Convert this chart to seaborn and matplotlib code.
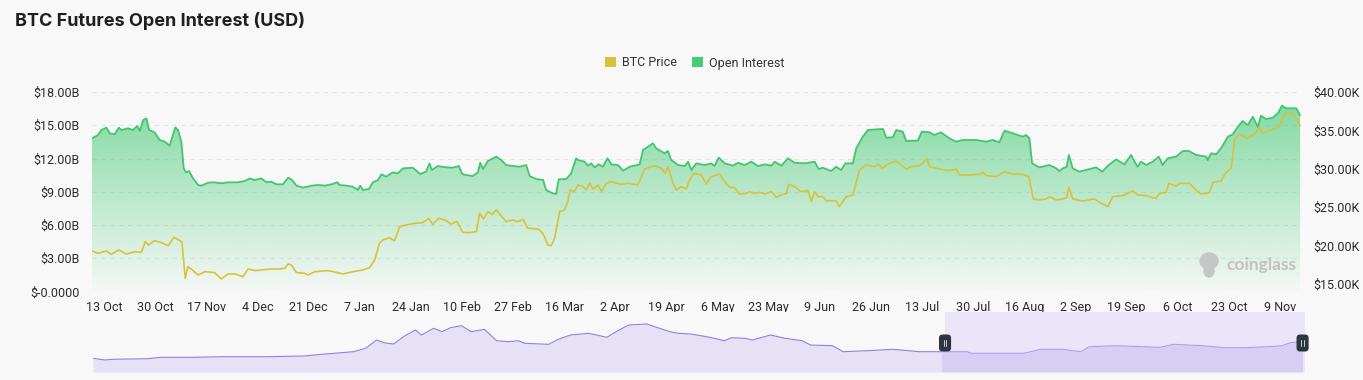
import numpy as np
import matplotlib
matplotlib.use("Agg")
import matplotlib.pyplot as plt
import matplotlib.colors as mcolors
import seaborn as sns
from matplotlib.patches import Patch, FancyBboxPatch, Ellipse
from matplotlib.ticker import FuncFormatter

# x values are days counted from 9 Oct 2022 (left edge of the chart)
oi_day = [0, 2, 3.1, 4.8, 5.9, 7.5, 8.9, 9.8, 12, 13.6,
          15, 15.9, 17, 18.1, 19, 20.8, 22.5, 24.2, 25.8, 27.7,
          28.6, 29.7, 30.5, 31.2, 32.3, 33.6, 35.3, 36.4, 38.6, 40.8,
          43, 45.2, 48.6, 50.8, 52.4, 54.1, 56.3, 58, 59.6, 61.3,
          63.5, 65.2, 66.5, 68, 70.2, 73, 75.2, 77.4, 79.6, 81.6,
          82.3, 84.5, 86.7, 88.4, 89.2, 90.1, 92.1, 93.4, 95.1, 96.2,
          97.8, 100.0, 101.7, 103.4, 106.7, 109.1, 111.1, 112.2, 113.0, 115.0,
          117.8, 120.0, 122.0, 123.1, 124.4, 126.6, 128.3, 129.1, 130.0, 131.6,
          134.4, 136.1, 137.7, 140.0, 142.2, 144.4, 145.5, 147.7, 150.0, 151.0,
          153.2, 154.3, 155.2, 157.7, 159.3, 161.0,
          161.6, 163.8, 164.9, 166.0, 167.1, 168.5, 169.9, 171.4, 172.7, 174.9,
          176.6, 178.8, 182.1, 183.2, 184.9, 186.5, 187.6, 190.4, 191.5, 192.6,
          194.9, 197.1, 198.2, 199.3, 200.9, 203.7, 205.9, 207.0, 208.4, 210.4,
          213.1, 214.8, 217.0, 219.2, 221.4, 223.7, 225.9, 227.0, 229.2, 231.4,
          233.6, 237.0, 240.3, 241.6,
          243.0, 245.8, 247.4, 249.1, 250.5, 253.0, 254.1, 256.3, 258.0, 260.7,
          263.0, 264.1, 266.3, 267.4, 269.6, 270.7, 274.6, 275.9, 278.5, 280.1,
          282.3, 285.1, 287.3, 289.5, 294.0, 297.3, 299.5, 301.7, 303.4, 306.2,
          309.5, 310.6, 311.7, 312.6, 315.0, 318.4, 320.6, 321.7,
          322.8, 324.1, 324.8, 326.1, 328.3, 331.7, 333.9, 335.9, 337.8, 340.5,
          343.3, 345.5, 347.0, 347.7, 348.8, 350.5, 352.7, 354.7, 356.0, 357.7,
          360.5, 362.7, 364.7, 367.1, 370.5, 371.0, 372.1, 373.8, 375.4, 377.7,
          379.3, 381.0, 382.6, 384.3, 386.0, 387.6, 388.7, 390.4, 392.6, 394.3,
          395.7, 397.0, 400.4, 401.7]
oi_bn = [13.82, 14.12, 14.57, 14.78, 14.27, 14.18, 14.78, 14.57, 14.72, 14.57,
         14.93, 14.48, 15.47, 15.62, 14.57, 14.36, 13.67, 13.52, 13.16, 14.81,
         14.57, 13.52, 11.11, 10.75, 10.87, 10.2, 9.61, 9.55, 9.82, 9.85,
         9.76, 9.85, 9.85, 9.97, 10.2, 10.06, 10.2, 9.85, 9.91, 9.67,
         9.67, 10.27, 10.06, 9.55, 9.37, 9.55, 9.61, 9.55, 9.67, 9.85,
         9.61, 9.55, 9.46, 9.16, 9.55, 9.16, 9.25, 9.85, 10.06, 10.57,
         10.36, 10.75, 10.66, 11.11, 11.17, 10.6, 10.81, 11.56, 10.96, 11.32,
         11.2, 11.17, 11.32, 10.6, 10.51, 10.42, 10.75, 11.62, 11.05, 11.77,
         12.17, 11.86, 11.41, 11.32, 11.26, 11.41, 10.42, 10.15, 10.06, 9.16,
         8.86, 8.8, 10.12, 10.15, 10.66, 12.02,
         11.86, 11.71, 11.35, 11.56, 11.2, 11.47, 11.26, 12.02, 11.47, 11.41,
         10.9, 11.26, 11.47, 12.77, 13.07, 13.37, 12.92, 12.47, 12.68, 11.86,
         11.41, 11.32, 11.71, 10.96, 11.56, 11.41, 11.56, 11.32, 12.08, 11.56,
         11.35, 11.62, 11.41, 11.71, 11.32, 11.47, 11.35, 11.71, 11.35, 12.02,
         11.62, 11.56, 11.71, 11.05,
         11.17, 10.87, 11.26, 10.96, 11.56, 11.56, 12.92, 13.97, 14.57, 14.63,
         14.66, 13.88, 13.91, 14.57, 14.42, 13.58, 13.61, 14.42, 14.36, 14.12,
         14.36, 13.82, 13.52, 13.67, 13.67, 13.52, 13.67, 13.46, 14.51, 14.27,
         13.97, 14.12, 13.82, 11.56, 11.2, 11.41, 11.11, 10.87,
         11.11, 11.26, 12.32, 11.11, 10.81, 11.05, 11.2, 10.81, 11.35, 11.92,
         11.47, 12.32, 11.56, 11.26, 11.71, 11.41, 11.71, 12.17, 11.41, 12.02,
         12.17, 12.68, 12.68, 12.32, 12.17, 11.86, 12.47, 12.38, 12.92, 13.97,
         14.18, 14.87, 15.38, 15.02, 15.77, 14.87, 15.86, 15.56, 15.68, 16.08,
         16.77, 16.53, 16.53, 15.92]

price_day = [0, 2.0, 4.8, 6.4, 8.9, 11.4, 14.2, 16.4, 17.7, 18.8,
             20.8, 23.1, 25.3, 27.3, 28.8, 29.9, 31.0, 31.9, 33.0, 35.3,
             37.5, 40.8, 43.0, 45.2, 47.5, 50.2, 51.9, 54.1, 57.4, 59.6,
             62.4, 64.1, 65.2, 66.3, 68.0, 70.7, 71.8, 74.1, 78.5, 81.6,
             83.4, 86.7, 90.1, 92.3, 94.0, 95.6, 96.7, 98.9, 100.6, 102.3,
             104.5, 107.3, 110.0, 112.0, 113.3, 115.3, 117.8, 119.4, 121.3, 123.3,
             125.5, 127.8, 128.9, 130.2, 131.6, 133.1, 134.4, 137.7, 139.9, 141.6,
             143.3, 144.9, 148.3, 149.9, 151.6, 152.7, 153.8, 155.5, 157.1, 158.2,
             159.0, 160.4,
             161.6, 163.3, 164.4, 165.5, 166.6, 168.2, 169.4, 171.0, 172.7, 176.0,
             178.2, 181.5, 183.8, 187.1, 189.3, 190.6, 191.5, 193.2, 194.3, 196.0,
             197.6, 198.7, 200.2, 202.6, 204.3, 205.9, 208.7, 210.4, 212.0, 213.7,
             215.3, 217.0, 218.7, 220.3, 222.0, 223.7, 225.9, 227.5, 229.2, 230.9,
             231.6, 233.6, 235.8, 238.1, 239.2, 240.3, 241.4,
             243.0, 244.1, 247.4, 248.5, 250.8, 253.0, 255.2, 257.4, 260.2, 261.6,
             262.7, 264.1, 267.4, 269.0, 270.7, 272.4, 275.1, 276.2, 277.6, 278.5,
             281.8, 285.1, 287.3, 288.4, 291.8, 295.1, 296.2, 297.3, 300.6, 303.4,
             306.2, 309.5, 311.5, 313.0, 315.0, 317.2, 318.4, 320.6,
             322.8, 324.1, 324.8, 326.1, 329.4, 333.3, 335.0, 337.8, 339.4, 342.7,
             346.1, 347.7, 350.5, 353.8, 354.9, 357.2, 358.0, 360.5, 361.8, 364.9,
             367.1, 368.8, 371.6, 372.7, 375.4, 377.1, 378.8, 379.9, 381.5, 384.3,
             386.5, 388.2, 389.3, 392.1, 394.8, 396.8, 399.3, 401.7]
price_k = [19.30, 19.0, 19.3, 18.86, 19.43, 18.9, 19.2, 19.12, 20.51, 20.08,
           20.64, 20.38, 19.99, 21.08, 20.73, 20.51, 15.74, 17.26, 16.95, 16.17,
           16.6, 16.48, 15.65, 16.3, 16.3, 15.95, 16.95, 16.74, 16.86, 16.95,
           16.95, 17.04, 17.6, 17.47, 16.48, 16.39, 16.17, 16.6, 16.74, 16.48,
           16.3, 16.6, 16.82, 17.13, 18.13, 20.3, 20.73, 21.03, 20.6, 22.47,
           22.68, 22.9, 22.99, 23.55, 22.77, 23.55, 23.25, 22.81, 23.12, 21.73,
           21.68, 21.81, 24.2, 23.46, 24.42, 24.07, 24.64, 23.12, 23.33, 23.12,
           23.42, 22.25, 22.16, 21.6, 20.08, 19.99, 20.95, 24.42, 24.64, 25.72,
           27.24, 27.02,
           27.89, 27.67, 27.24, 28.11, 27.33, 27.89, 27.02, 28.11, 28.32, 27.98,
           28.11, 27.89, 29.97, 30.41, 30.06, 29.41, 30.28, 28.11, 27.24, 27.67,
           27.37, 28.54, 29.41, 29.19, 28.02, 28.98, 29.32, 28.32, 27.59, 27.54,
           26.72, 26.72, 27.02, 26.8, 26.93, 26.72, 27.02, 26.28, 26.59, 26.8,
           27.98, 27.67, 27.02, 27.15, 25.72, 27.02, 26.37,
           26.37, 25.85, 25.81, 25.07, 26.37, 26.59, 29.84, 30.5, 30.28, 30.58,
           30.06, 30.5, 31.02, 30.5, 29.97, 30.28, 30.41, 30.71, 31.28, 30.28,
           29.97, 29.76, 29.97, 29.19, 29.19, 29.28, 29.54, 29.11, 28.98, 29.62,
           29.32, 29.28, 28.98, 26.07, 25.94, 26.07, 26.37, 25.94,
           26.07, 26.24, 27.59, 26.07, 25.81, 26.07, 25.63, 25.07, 26.37, 26.5,
           27.11, 26.59, 26.5, 26.15, 26.8, 26.93, 28.11, 27.76, 28.11, 28.11,
           27.24, 26.72, 26.89, 28.24, 28.41, 29.54, 30.06, 33.75, 34.49, 33.97,
           34.49, 35.4, 34.62, 35.05, 35.49, 37.35, 37.14, 35.62]

tick_labels = ['13 Oct', '30 Oct', '17 Nov', '4 Dec', '21 Dec', '7 Jan', '24 Jan',
               '10 Feb', '27 Feb', '16 Mar', '2 Apr', '19 Apr', '6 May', '23 May',
               '9 Jun', '26 Jun', '13 Jul', '30 Jul', '16 Aug', '2 Sep', '19 Sep',
               '6 Oct', '23 Oct', '9 Nov']
tick_first_day = 4
tick_step = 17

# overview strip under the chart (position in % of the full history)
nav_pct = [0, 1.0, 1.6, 4.5, 5.6, 8.2, 10.7, 14.4, 17.4, 19.2,
           21.5, 22.5, 23.4, 24.0, 24.8, 25.7, 26.6, 27.1, 28.1, 28.8,
           29.5, 30.4, 31.2, 32.3, 32.8, 33.3, 34.3, 35.1, 35.6, 37.6,
           38.4, 39.4, 40.9, 42.4, 43.3, 44.2, 45.7, 46.5, 47.6, 48.3,
           49.3, 50.9, 52.1, 52.7, 53.8, 54.4, 55.9, 57.1, 58.5, 59.2,
           61.0, 61.9, 63.9, 66.0, 68.2, 70.0, 72.1, 72.5, 76.8, 78.2,
           80.0, 81.5, 82.2, 84.4, 88.0, 89.2, 91.6, 93.3, 95.1, 98.0,
           98.8, 99.8]
nav_val = [6.85, 6.0, 6.35, 6.65, 7.35, 7.35, 7.65, 7.65, 8.0, 9.0,
           10.15, 11.85, 16.0, 14.65, 14.0, 18.0, 21.0, 18.5, 21.85, 20.15,
           22.15, 23.15, 20.15, 21.35, 18.5, 15.65, 15.15, 15.65, 14.35, 13.85,
           16.35, 18.5, 19.35, 17.35, 20.65, 23.5, 24.0, 22.35, 20.15, 19.35,
           19.0, 17.35, 15.65, 17.15, 16.85, 16.0, 18.5, 16.85, 15.65, 13.5,
           13.15, 10.15, 10.65, 11.35, 10.15, 10.15, 10.15, 9.35, 9.35, 11.35,
           11.35, 10.15, 12.65, 13.15, 12.35, 13.85, 13.15, 12.15, 12.15, 13.0,
           14.65, 15.15]
zoom_start, zoom_end = 70.3, 99.8

BG = '#f8f8f8'
GREEN = '#44c56f'
GOLD = '#d8c23c'

sns.set_theme(style="white")
plt.rcParams['font.family'] = ['Roboto', 'DejaVu Sans']

W, H = 1363, 380
fig = plt.figure(figsize=(W / 100, H / 100), dpi=100, facecolor=BG)

# main chart
ax = fig.add_axes([92 / W, 1 - 291.5 / H, 1209 / W, 199.5 / H])
ax.set_facecolor(BG)
for s in ax.spines.values():
    s.set_visible(False)

fill = ax.fill_between(oi_day, oi_bn, 0, facecolor='none', edgecolor='none')
grad = np.zeros((256, 1, 4))
grad[..., :3] = mcolors.to_rgb('#3cc86e')
grad[:, 0, 3] = np.linspace(0.02, 0.62, 256)
img = ax.imshow(grad, extent=[oi_day[0], oi_day[-1], 0, max(oi_bn)],
                origin='lower', aspect='auto', zorder=1)
img.set_clip_path(fill.get_paths()[0], ax.transData)
sns.lineplot(x=oi_day, y=oi_bn, ax=ax, color=GREEN, linewidth=1.3,
             estimator=None, sort=False, zorder=3)

ax.set_xlim(0, 402)
ax.set_ylim(0, 18)
ax.set_yticks(np.arange(0, 19, 3))
ax.yaxis.set_major_formatter(FuncFormatter(
    lambda v, p: '$-0.0000' if v == 0 else f'${v:.2f}B'))
ax.set_xticks([tick_first_day + tick_step * i for i in range(len(tick_labels))])
ax.set_xticklabels(tick_labels)
ax.grid(axis='y', color='#e4e4e4', linestyle=(0, (4, 4)), linewidth=0.8)
ax.grid(axis='x', visible=False)
ax.tick_params(axis='both', length=0, labelsize=9, colors='#2b2b2b')
ax.tick_params(axis='x', pad=7)
ax.tick_params(axis='y', pad=9)
ax.set_xlabel('')
ax.set_ylabel('')

ax2 = ax.twinx()
ax2.patch.set_visible(False)
for s in ax2.spines.values():
    s.set_visible(False)
sns.lineplot(x=price_day, y=price_k, ax=ax2, color=GOLD, linewidth=1.2,
             estimator=None, sort=False)
ax2.set_ylim(14.02, 40)
ax2.set_yticks(np.arange(15, 41, 5))
ax2.yaxis.set_major_formatter(FuncFormatter(lambda v, p: f'${v:.2f}K'))
ax2.grid(False)
ax2.tick_params(axis='y', length=0, labelsize=9, colors='#2b2b2b', pad=9)
ax2.set_ylabel('')
ax2.set_xlim(0, 402)

# watermark
fig.text(1226 / W, 1 - 265 / H, 'coinglass', fontsize=12.5, fontweight='bold',
         family=['Lato', 'DejaVu Sans'], color='#c2c2c2', ha='left', va='center')
fig.patches.append(Ellipse((1209 / W, 1 - 261 / H), 18 / W, 16 / H,
                           transform=fig.transFigure, color='#c6c6c6'))
fig.patches.append(Ellipse((1209 / W, 1 - 271 / H), 10 / W, 12 / H,
                           transform=fig.transFigure, color='#c6c6c6'))

# title and legend
fig.text(15 / W, 1 - 21 / H, 'BTC Futures Open Interest (USD)', fontsize=13,
         fontweight='bold', family=['Inter', 'DejaVu Sans'], color='#1f1f1f',
         ha='left', va='center')
handles = [Patch(facecolor=GOLD, edgecolor='none', label='BTC Price'),
           Patch(facecolor='#46cc72', edgecolor='none', label='Open Interest')]
fig.legend(handles=handles, loc='center', bbox_to_anchor=(695 / W, 1 - 63 / H),
           ncol=2, frameon=False, fontsize=9, handlelength=0.85, handleheight=0.85,
           handletextpad=0.5, columnspacing=1.2, labelcolor='#333333')

# overview strip with the zoom window
nav = fig.add_axes([93 / W, 1 - 372 / H, 1212 / W, 60 / H])
nav.set_facecolor(BG)
for s in nav.spines.values():
    s.set_visible(False)
nav.set_xlim(0, 100)
nav.set_ylim(0, 30)
nav.set_xticks([])
nav.set_yticks([])
nav.axvspan(zoom_start, zoom_end + 0.2, color='#ebe5f9', zorder=0, lw=0)
px = np.array(nav_pct)
pv = np.array(nav_val)
left = px <= 70.0
right = px >= 70.0
nav.fill_between(px[left], pv[left], 0, color='#e6e1f4', lw=0, zorder=1)
nav.fill_between(px[right], pv[right], 0, color='#d7cff3', lw=0, zorder=1)
sns.lineplot(x=px[left], y=pv[left], ax=nav, color='#8e80e6', linewidth=0.8,
             estimator=None, sort=False, zorder=2)
sns.lineplot(x=px[right], y=pv[right], ax=nav, color='#ab9ff0', linewidth=0.8,
             estimator=None, sort=False, zorder=2)
for hx in (zoom_start, zoom_end):
    nav.add_patch(FancyBboxPatch((hx - 0.5, 14.5 - 4.25), 1.0, 8.5,
                                 boxstyle='round,pad=0,rounding_size=0.3',
                                 mutation_aspect=6, facecolor='#2f3540',
                                 edgecolor='none', zorder=5, clip_on=False))
    for dx in (-0.1, 0.1):
        nav.plot([hx + dx, hx + dx], [13.0, 16.0], color='#d0d0d0',
                 linewidth=0.7, zorder=6, clip_on=False)
nav.set_xlabel('')
nav.set_ylabel('')

fig.savefig('out.png', dpi=100, facecolor=BG)
